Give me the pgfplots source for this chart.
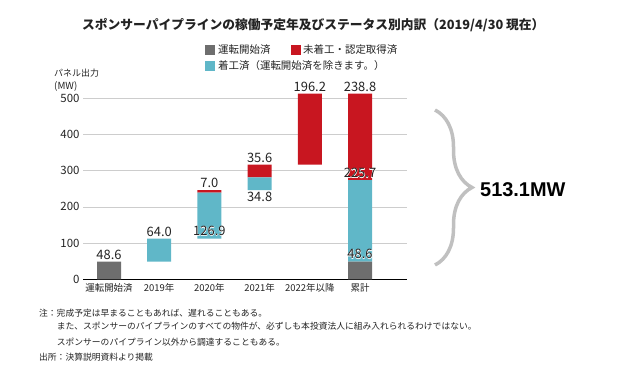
\documentclass[border=0pt]{standalone}
\usepackage{fontspec}
\setmainfont{Noto Sans CJK JP}
\newfontfamily\arialb{Liberation Sans}
\newfontfamily\halofont{Noto Sans CJK JP}[FakeBold=5]
\usepackage{pgfplots}
\pgfplotsset{compat=1.18}
\usetikzlibrary{decorations.pathreplacing}
\definecolor{cgray}{RGB}{110,110,110}
\definecolor{cred}{RGB}{200,22,32}
\definecolor{ccyan}{RGB}{96,183,200}
\definecolor{cgrid}{RGB}{205,205,205}
\definecolor{ctext}{RGB}{35,35,35}
\tikzset{vlab/.style={font=\fontsize{13}{14}\selectfont, text=ctext, inner sep=2bp}}
\newcommand{\halo}[2]{%
\node[vlab,text=white,font=\halofont\fontsize{13}{14}\selectfont] at #1 {#2};
\node[vlab] at #1 {#2};}
\begin{document}
\begin{tikzpicture}
\path[use as bounding box] (0,0) rectangle (630bp,388bp);
% title
\node[anchor=west, inner sep=0, font=\fontsize{12.8}{14}\selectfont\bfseries, text=ctext] at (82bp,363bp) {スポンサーパイプラインの稼働予定年及びステータス別内訳（2019/4/30 現在）};
% legend
\fill[cgray] (205bp,333bp) rectangle (215bp,343bp);
\node[anchor=west, inner sep=0, font=\fontsize{10.5}{12}\selectfont, text=ctext] at (218bp,338bp) {運転開始済};
\fill[cred] (291bp,333bp) rectangle (301bp,343bp);
\node[anchor=west, inner sep=0, font=\fontsize{10.5}{12}\selectfont, text=ctext] at (303bp,338bp) {未着工・認定取得済};
\fill[ccyan] (205bp,317bp) rectangle (215bp,327bp);
\node[anchor=west, inner sep=0, font=\fontsize{10.5}{12}\selectfont, text=ctext] at (218bp,322bp) {着工済（運転開始済を除きます。）};
% y label
\node[anchor=west, inner sep=0, font=\fontsize{9}{10}\selectfont, text=ctext] at (54bp,315bp) {パネル出力};
\node[anchor=west, inner sep=0, font=\fontsize{9.8}{10}\selectfont, text=ctext] at (54bp,302bp) {(MW)};
\begin{axis}[at={(83bp,108.7bp)}, anchor=south west, scale only axis,
 width=324bp, height=181bp,
 xmin=-0.518, xmax=5.936, ymin=0, ymax=500,
 ybar stacked, bar width=24bp,
 xtick={0,1,2,3,4,5},
 xticklabels={運転開始済,2019年,2020年,2021年,2022年以降,累計},
 ytick={0,100,200,300,400,500},
 axis lines=left, axis line style={-},
 y axis line style={draw=none},
 x axis line style={black, line width=1.3bp},
 major tick length=0pt,
 ymajorgrids, grid style={cgrid, line width=0.6bp},
 xticklabel style={font=\fontsize{9.5}{10}\selectfont, text=ctext, yshift=-1bp},
 yticklabel style={font=\fontsize{11.5}{12}\selectfont, text=ctext},
 /pgf/number format/assume math mode=true,
 clip=false]
\addplot[draw=none, fill=none, forget plot] coordinates {(0,0) (1,48.6) (2,112.6) (3,246.5) (4,316.9) (5,0)};
\addplot[fill=cgray, draw=none] coordinates {(0,48.6) (1,0) (2,0) (3,0) (4,0) (5,48.6)};
\addplot[fill=ccyan, draw=none] coordinates {(0,0) (1,64.0) (2,126.9) (3,34.8) (4,0) (5,225.7)};
\addplot[fill=cred, draw=none] coordinates {(0,0) (1,0) (2,7.0) (3,35.6) (4,196.2) (5,238.8)};
\coordinate (a0) at (axis cs:0,48.6);
\coordinate (a1) at (axis cs:1,112.6);
\coordinate (a2) at (axis cs:2,134);
\coordinate (a3) at (axis cs:2,246.5);
\coordinate (a4) at (axis cs:3,316.9);
\coordinate (a5) at (axis cs:3,246.5);
\coordinate (a6) at (axis cs:4,513.1);
\coordinate (a7) at (axis cs:5,513.1);
\coordinate (a8) at (axis cs:5,293.6);
\coordinate (a9) at (axis cs:5,70);
\end{axis}
\node[vlab, anchor=south] at (a0) {48.6};
\node[vlab, anchor=south] at (a1) {64.0};
\halo{(a2)}{126.9}
\node[vlab, anchor=south] at (a3) {7.0};
\node[vlab, anchor=south] at (a4) {35.6};
\node[vlab, anchor=north] at (a5) {34.8};
\node[vlab, anchor=south] at (a6) {196.2};
\node[vlab, anchor=south] at (a7) {238.8};
\halo{(a8)}{225.7}
\halo{(a9)}{48.6}
% brace
\draw[decorate, decoration={brace, amplitude=37bp}, line width=3.5bp, color={rgb,255:red,192;green,192;blue,192}] (435bp,278bp) -- (435bp,123bp);
\node[anchor=west, inner sep=0, font=\arialb\bfseries\fontsize{20}{22}\selectfont, text=black] at (480bp,198bp) {513.1MW};
% notes
\node[anchor=west, inner sep=0, font=\fontsize{8.8}{10}\selectfont, text=ctext] at (39bp,75.3bp) {注：完成予定は早まることもあれば、遅れることもある。};
\node[anchor=west, inner sep=0, font=\fontsize{8.8}{10}\selectfont, text=ctext] at (56.7bp,62.3bp) {また、スポンサーのパイプラインのすべての物件が、必ずしも本投資法人に組み入れられるわけではない。};
\node[anchor=west, inner sep=0, font=\fontsize{8.8}{10}\selectfont, text=ctext] at (56.7bp,46.3bp) {スポンサーのパイプライン以外から調達することもある。};
\node[anchor=west, inner sep=0, font=\fontsize{8.8}{10}\selectfont, text=ctext] at (39bp,31.3bp) {出所：決算説明資料より掲載};
\end{tikzpicture}
\end{document}
